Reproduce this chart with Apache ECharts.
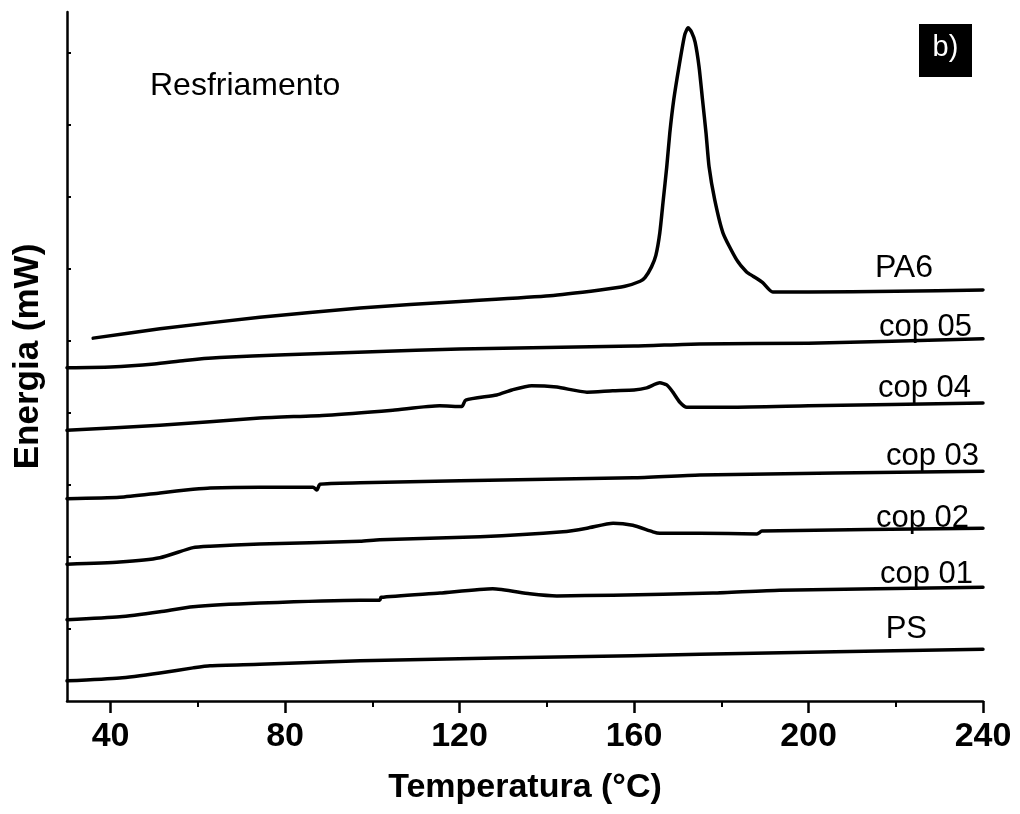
<!DOCTYPE html>
<html>
<head>
<meta charset="utf-8">
<script src="https://cdn.jsdelivr.net/npm/echarts@6/dist/echarts.min.js"></script>
<style>
html,body{margin:0;padding:0;background:#fff;}
#chart{width:1020px;height:814px;}
</style>
</head>
<body>
<div id="chart"></div>
<script>
// Temperature (°C) / Energy (arbitrary mW offset) pairs
const xMajorTicks = [40, 80, 120, 160, 200, 240];
const xMinorTicks = [60, 100, 140, 180, 220];
const yTicks = [1, 2, 3, 4, 5, 6, 7, 8, 9];

const seriesNames = ['PA6', 'cop 05', 'cop 04', 'cop 03', 'cop 02', 'cop 01', 'PS'];

const PA6 = [[36.0,5.04],[51.3,5.17],[74.2,5.33],[97.2,5.46],[120.1,5.55],[140.7,5.63],[152.2,5.71],[157.9,5.76],[161.4,5.83],[162.5,5.88],[164.0,6.03],[165.0,6.19],[165.9,6.50],[166.7,6.96],[167.5,7.42],[168.2,7.89],[169.1,8.35],[170.3,8.81],[171.6,9.25],[172.4,9.35],[173.2,9.29],[174.0,9.15],[174.9,8.81],[175.7,8.35],[176.5,7.89],[177.2,7.42],[178.5,6.96],[180.4,6.50],[183.5,6.13],[185.8,5.96],[187.3,5.90],[189.5,5.81],[191.8,5.68],[200,5.68],[220,5.69],[240,5.71]];
const cop05 = [[30,4.63],[40,4.64],[50,4.68],[57,4.73],[65,4.77],[80,4.81],[100,4.85],[120,4.89],[160,4.93],[175,4.96],[200,4.97],[240,5.03]];
const cop04 = [[30,3.76],[51.3,3.83],[74.2,3.93],[89.6,3.97],[104.7,4.04],[115.4,4.10],[120.5,4.09],[121.4,4.18],[128.5,4.25],[132.0,4.32],[136.5,4.38],[142.3,4.36],[149.2,4.29],[155.1,4.31],[160.0,4.32],[162.9,4.35],[165.9,4.42],[167.5,4.39],[168.9,4.29],[170.5,4.15],[172.1,4.08],[182,4.08],[200,4.10],[240,4.14]];
const cop03 = [[30,2.81],[42.1,2.83],[51.3,2.89],[58.9,2.94],[62.8,2.96],[74.2,2.97],[86.4,2.97],[87.3,2.93],[88.0,3.01],[97.2,3.03],[120.1,3.06],[159.8,3.10],[175.1,3.14],[240,3.19]];
const cop02 = [[30,1.90],[42.1,1.93],[51.3,1.99],[58.9,2.13],[62.8,2.15],[74.2,2.18],[97.2,2.22],[101.7,2.24],[124.7,2.28],[143.7,2.35],[149.2,2.40],[155.2,2.47],[159.7,2.44],[164.3,2.35],[165.9,2.33],[175.1,2.33],[188.2,2.32],[189.3,2.36],[240,2.40]];
const cop01 = [[30,1.13],[42.1,1.17],[51.3,1.24],[58.9,1.31],[74.2,1.36],[97.2,1.40],[101.7,1.40],[102.0,1.44],[115.5,1.50],[127.6,1.56],[136.1,1.49],[142.3,1.46],[155.2,1.47],[178.1,1.50],[193.4,1.54],[240,1.58]];
const PS = [[30,0.28],[42.1,0.32],[51.3,0.39],[58.9,0.46],[62.8,0.49],[74.2,0.51],[97.2,0.56],[159.7,0.63],[175.1,0.65],[240,0.72]];

const seriesData = [PA6, cop05, cop04, cop03, cop02, cop01, PS];

const chart = echarts.init(document.getElementById('chart'), null, {renderer: 'canvas'});

const FONT = '"Liberation Sans", Arial, Helvetica, sans-serif';

const labelStyle = (txt, xr, yc, size) => ({
  type: 'text',
  style: {text: txt, x: xr, y: yc, fill: '#000', font: size + 'px ' + FONT, textAlign: 'right', textVerticalAlign: 'middle'}
});

const option = {
  backgroundColor: '#fff',
  animation: false,
  grid: {left: 67, right: 37, top: 12, bottom: 113, containLabel: false},
  xAxis: [{
    type: 'value', min: 30, max: 240, position: 'bottom',
    name: 'Temperatura (°C)', nameLocation: 'middle', nameGap: 70,
    nameTextStyle: {fontFamily: FONT, fontWeight: 'bold', fontSize: 34, color: '#000'},
    axisLine: {show: true, lineStyle: {color: '#000', width: 2.5}},
    axisTick: {show: true, inside: false, length: 12, lineStyle: {color: '#000', width: 2.5}, customValues: xMajorTicks},
    axisLabel: {show: true, margin: 19, fontFamily: FONT, fontWeight: 'bold', fontSize: 34, color: '#000', customValues: xMajorTicks},
    splitLine: {show: false}
  }, {
    type: 'value', min: 30, max: 240, position: 'bottom',
    axisLine: {show: false},
    axisTick: {show: true, inside: false, length: 6, lineStyle: {color: '#000', width: 2}, customValues: xMinorTicks},
    axisLabel: {show: false},
    splitLine: {show: false}
  }],
  yAxis: {
    type: 'value', min: 0, max: 9.57, position: 'left',
    name: 'Energia (mW)', nameLocation: 'middle', nameGap: 21, nameRotate: 90,
    nameTextStyle: {fontFamily: FONT, fontWeight: 'bold', fontSize: 35, color: '#000'},
    axisLine: {show: true, lineStyle: {color: '#000', width: 2.5}},
    axisTick: {show: true, inside: true, length: 4, lineStyle: {color: '#000', width: 2}, customValues: yTicks},
    axisLabel: {show: false},
    splitLine: {show: false}
  },
  series: seriesData.map((d, i) => ({
    type: 'line', name: seriesNames[i], data: d, xAxisIndex: 0,
    showSymbol: false, symbol: 'none', smooth: 0.2,
    lineStyle: {color: '#000', width: 3.5, cap: 'round', join: 'round'}, clip: false
  })),
  graphic: [
    {type: 'text', style: {text: 'Resfriamento', x: 150, y: 86, fill: '#000', font: '32px ' + FONT, textAlign: 'left', textVerticalAlign: 'middle'}},
    labelStyle('PA6', 933, 268, 32),
    labelStyle('cop 05', 972, 327, 31),
    labelStyle('cop 04', 971, 388, 31),
    labelStyle('cop 03', 979, 456, 31),
    labelStyle('cop 02', 969, 518, 31),
    labelStyle('cop 01', 973, 574, 31),
    labelStyle('PS', 927, 629, 31),
    {type: 'rect', shape: {x: 919, y: 24, width: 53, height: 53}, style: {fill: '#000'}},
    {type: 'text', style: {text: 'b)', x: 945.5, y: 48, fill: '#fff', font: '29px ' + FONT, textAlign: 'center', textVerticalAlign: 'middle'}}
  ]
};
chart.setOption(option);
</script>
</body>
</html>
